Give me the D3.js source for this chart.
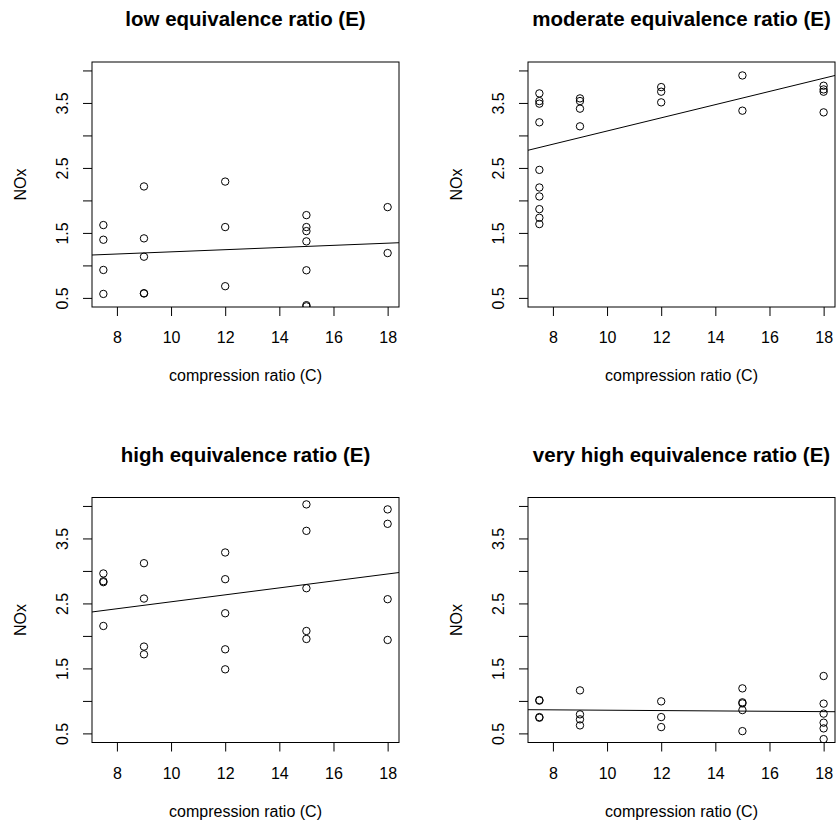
<!DOCTYPE html>
<html>
<head>
<meta charset="utf-8">
<script src="https://cdn.jsdelivr.net/npm/d3@7"></script>
<style>
  body { margin: 0; background: #fff; }
  svg text { font-family: "Liberation Sans", Arial, sans-serif; fill: #000; }
</style>
</head>
<body>
<script>
// panel titles, one per equivalence ratio group
const panelTitles = [
  "low equivalence ratio (E)",
  "moderate equivalence ratio (E)",
  "high equivalence ratio (E)",
  "very high equivalence ratio (E)"
];

// compression ratio (x) and NOx (y)
const lowC = [7.5, 7.5, 7.5, 7.5, 9, 9, 9, 9, 9, 12, 12, 12, 15, 15, 15, 15, 15, 15, 15, 18, 18];
const lowNOx = [1.621, 1.395, 0.93, 0.561, 2.215, 1.416, 1.134, 0.572, 0.568, 2.29, 1.59, 0.68,
  1.774, 1.59, 1.528, 1.37, 0.925, 0.388, 0.37, 1.897, 1.19];

const modC = [7.5, 7.5, 7.5, 7.5, 7.5, 7.5, 7.5, 7.5, 7.5, 7.5, 9, 9, 9, 9, 12, 12, 12, 15, 15, 18, 18, 18, 18];
const modNOx = [3.647, 3.529, 3.489, 3.202, 2.47, 2.199, 2.061, 1.866, 1.733, 1.636,
  3.57, 3.529, 3.412, 3.14, 3.744, 3.673, 3.509, 3.923, 3.381, 3.765, 3.708, 3.673, 3.355];

const highC = [7.5, 7.5, 7.5, 7.5, 9, 9, 9, 9, 12, 12, 12, 12, 12, 15, 15, 15, 15, 15, 18, 18, 18, 18];
const highNOx = [2.961, 2.842, 2.827, 2.153, 3.119, 2.575, 1.836, 1.717, 3.284, 2.873, 2.349, 1.794, 1.486,
  4.024, 3.617, 2.734, 2.076, 1.953, 3.947, 3.725, 2.565, 1.938];

const vhighC = [7.5, 7.5, 7.5, 7.5, 9, 9, 9, 9, 12, 12, 12, 15, 15, 15, 15, 15, 18, 18, 18, 18, 18, 18];
const vhighNOx = [1.013, 1.004, 0.751, 0.741, 1.162, 0.793, 0.716, 0.623, 0.993, 0.751, 0.597,
  1.193, 0.978, 0.962, 0.859, 0.535, 1.383, 0.958, 0.804, 0.665, 0.577, 0.412];

// fitted lines (intercept, slope) for each panel
const fitIntercept = [1.042, 2.053, 1.990, 0.884];
const fitSlope = [0.01667, 0.1015, 0.0535, -0.00273];

// axis ticks
const xTicks = [8, 10, 12, 14, 16, 18];
const yTicks = [0.5, 1.0, 1.5, 2.0, 2.5, 3.0, 3.5, 4.0];
const yLabels = [0.5, 1.5, 2.5, 3.5];

const xLabel = "compression ratio (C)";
const yLabel = "NOx";

const panelC = [lowC, modC, highC, vhighC];
const panelNOx = [lowNOx, modNOx, highNOx, vhighNOx];

const svg = d3.select("body").append("svg")
  .attr("width", 837)
  .attr("height", 831);

// box geometry
const boxW = 307, boxH = 245;
const lefts = [92, 528];
const tops = [62, 497.5];

panelTitles.forEach((title, i) => {
  const left = lefts[i % 2];
  const top = tops[Math.floor(i / 2)];

  const x = d3.scaleLinear().domain([7.08, 18.42]).range([left, left + boxW]);
  const y = d3.scaleLinear().domain([0.36, 4.13]).range([top + boxH, top]);

  const g = svg.append("g");

  // clip marks to the plot box, like R does
  const clipId = "clip" + i;
  svg.append("clipPath").attr("id", clipId)
    .append("rect")
      .attr("x", left).attr("y", top)
      .attr("width", boxW).attr("height", boxH);

  // x axis
  const xAxis = d3.axisBottom(x).tickValues(xTicks).tickSize(9).tickPadding(16)
    .tickFormat(d3.format("d"));
  const gx = g.append("g")
    .attr("transform", `translate(0, ${top + boxH})`)
    .call(xAxis);
  gx.select(".domain").remove();
  gx.selectAll("text").attr("font-size", 16).attr("font-family", null);
  gx.selectAll("line").attr("stroke", "#000");

  // y axis, labels rotated as in R
  const yAxis = d3.axisLeft(y).tickValues(yTicks).tickSize(9)
    .tickFormat(d => yLabels.includes(d) ? d3.format(".1f")(d) : "");
  const gy = g.append("g")
    .attr("transform", `translate(${left}, 0)`)
    .call(yAxis);
  gy.select(".domain").remove();
  gy.selectAll("line").attr("stroke", "#000");
  gy.selectAll("text")
    .attr("font-size", 16)
    .attr("font-family", null)
    .attr("x", null).attr("dy", null)
    .attr("text-anchor", "middle")
    .attr("transform", "translate(-24, 0) rotate(-90)");

  // box
  g.append("rect")
    .attr("x", left).attr("y", top)
    .attr("width", boxW).attr("height", boxH)
    .attr("fill", "none")
    .attr("stroke", "#000")
    .attr("stroke-width", 1);

  // title
  g.append("text")
    .attr("x", left + boxW / 2)
    .attr("y", top - 36)
    .attr("text-anchor", "middle")
    .attr("font-size", 20.5)
    .attr("font-weight", "bold")
    .text(title);

  // axis titles
  g.append("text")
    .attr("x", left + boxW / 2)
    .attr("y", top + boxH + 74)
    .attr("text-anchor", "middle")
    .attr("font-size", 16)
    .text(xLabel);

  g.append("text")
    .attr("transform", `translate(${left - 66}, ${top + boxH / 2}) rotate(-90)`)
    .attr("text-anchor", "middle")
    .attr("font-size", 16)
    .text(yLabel);

  // points
  const pts = panelC[i].map((c, j) => ({ c: c, nox: panelNOx[i][j] }));
  g.append("g")
    .attr("clip-path", `url(#${clipId})`)
    .selectAll("circle")
    .data(pts)
    .enter()
    .append("circle")
      .attr("cx", d => x(d.c))
      .attr("cy", d => y(d.nox))
      .attr("r", 3.7)
      .attr("fill", "none")
      .attr("stroke", "#000")
      .attr("stroke-width", 1);

  // fitted line across the whole box
  const dom = x.domain();
  const line = d3.line().x(d => x(d)).y(d => y(fitIntercept[i] + fitSlope[i] * d));
  g.append("path")
    .attr("clip-path", `url(#${clipId})`)
    .attr("d", line(dom))
    .attr("fill", "none")
    .attr("stroke", "#000")
    .attr("stroke-width", 1);
});
</script>
</body>
</html>
